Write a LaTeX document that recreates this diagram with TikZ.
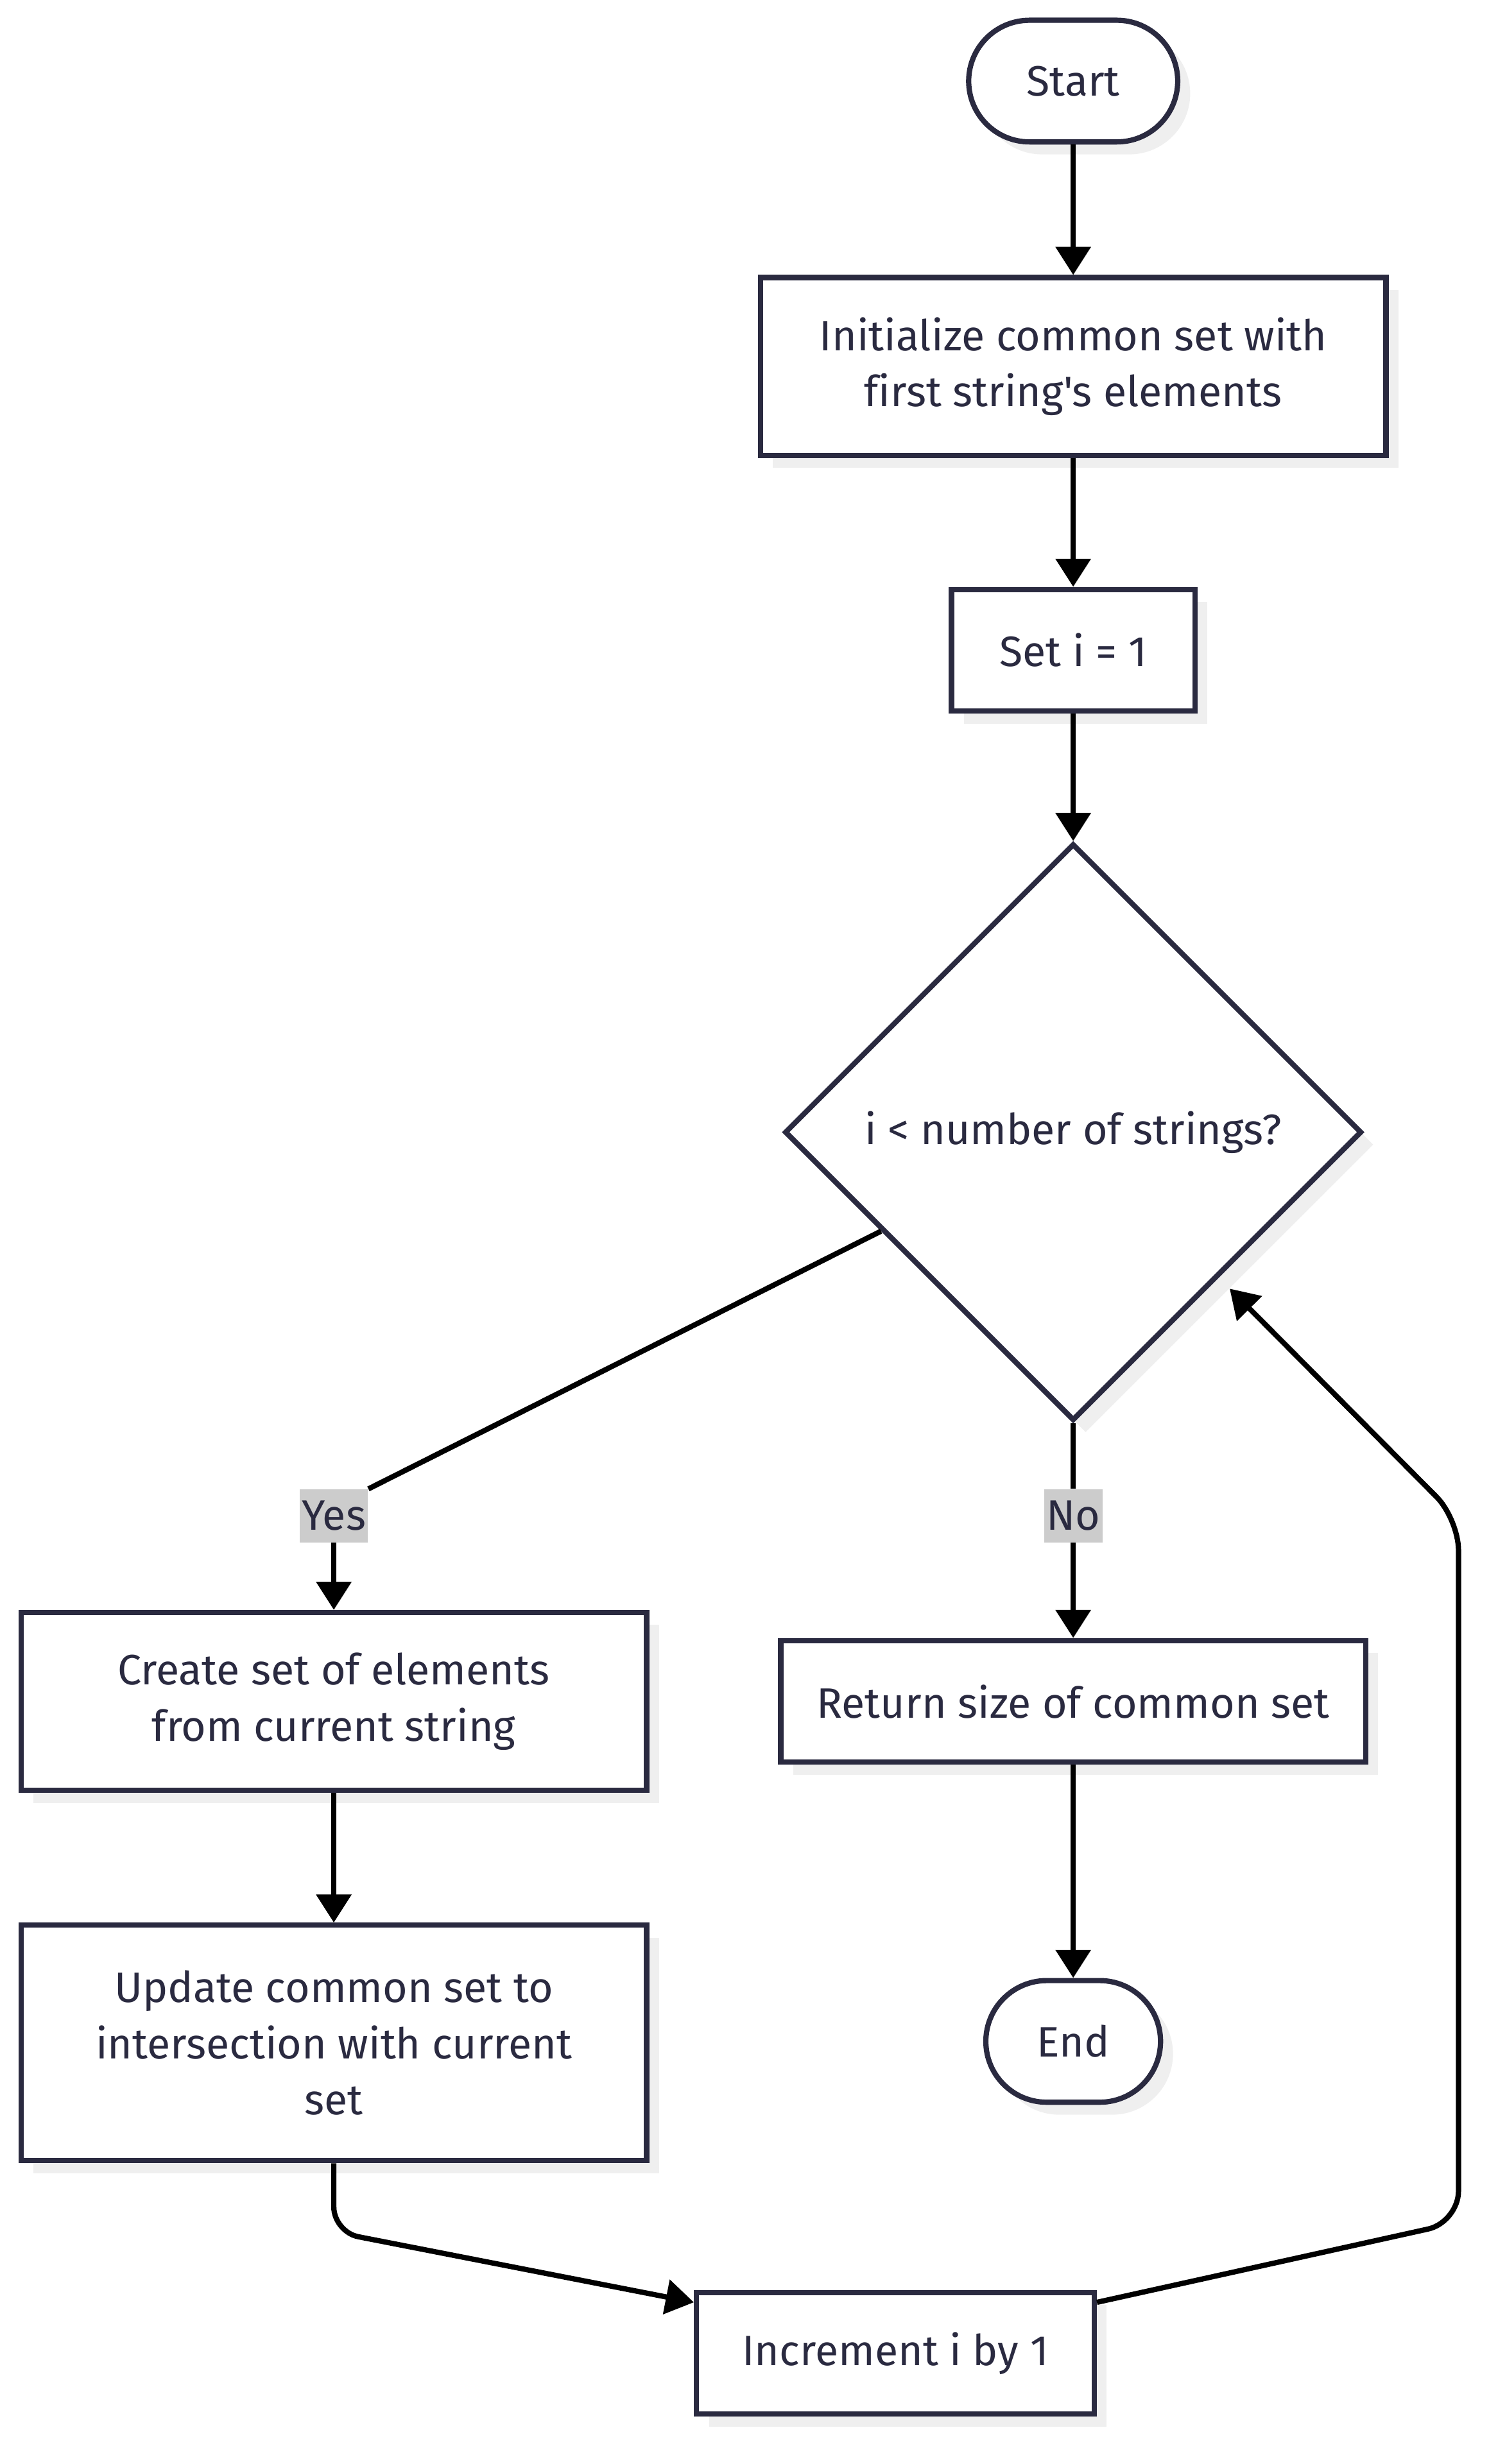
\documentclass[tikz,border=0pt]{standalone}
\usepackage{fontspec}
\setmainfont{Fira Sans}[Ligatures={TeXOff,CommonOff}]
\usetikzlibrary{shapes.geometric,arrows.meta,shadows,calc}
\definecolor{ink}{HTML}{2A2A40}
\definecolor{shade}{HTML}{EFEFEF}
\definecolor{lblgray}{HTML}{CCCCCC}
\begin{document}
\begin{tikzpicture}[font=\fontsize{19.4}{25.6}\selectfont]
            \tikzstyle{box} = [draw=ink, line width=2.4pt, fill=white, text=ink, align=center, drop shadow={shadow xshift=0.2cm, shadow yshift=-0.2cm, fill=shade, opacity=1}]
            \tikzstyle{term} = [box, rounded corners=0.975cm, minimum height=1.95cm]
            \tikzstyle{decision} = [box, diamond, aspect=1, minimum width=9.25cm, minimum height=9.25cm, inner sep=0pt]
            \tikzstyle{flow} = [line width=2.4pt, draw=black]
            \tikzstyle{flowarrow} = [flow, -{Triangle[width=0.55cm, length=0.45cm]}]
            \tikzstyle{lbl} = [fill=lblgray, text=ink, inner sep=1pt, minimum height=0.85cm]
            \useasboundingbox (0, 0) rectangle (24, -39.5);
            \node[term, minimum width=3.35cm] (start) at (17.2, -1.3) {Start};
            \node[box, minimum width=10.025cm, minimum height=2.85cm] (init) at (17.2, -5.875) {Initialize common set with\\first string's elements};
            \node[box, minimum width=3.9cm, minimum height=1.95cm] (seti) at (17.2, -10.425) {Set i = 1};
            \node[decision] (check) at (17.2, -18.15) {i < number of strings?};
            \node[box, minimum width=10.025cm, minimum height=2.85cm] (create) at (5.35, -27.275) {Create set of elements\\from current string};
            \node[box, minimum width=9.375cm, minimum height=1.95cm] (ret) at (17.2, -27.275) {Return size of common set};
            \node[box, minimum width=10.025cm, minimum height=3.775cm] (update) at (5.35, -32.75) {Update common set to\\intersection with current\\set};
            \node[term, minimum width=2.8cm] (stop) at (17.2, -32.725) {End};
            \node[box, minimum width=6.375cm, minimum height=1.95cm] (incr) at (14.35, -37.725) {Increment i by 1};
            \node[lbl] (yes) at (5.35, -24.3) {Yes};
            \node[lbl] (no) at (17.2, -24.3) {No};
            \coordinate (back) at ($(check.east)!0.5!(check.south) + (0.175, -0.175)$);
            
            \draw[flowarrow] (start) -- (init);
            \draw[flowarrow] (init) -- (seti);
            \draw[flowarrow] (seti) -- (check);
            \draw[flow] ($(check.west)!0.34!(check.south)$) -- (yes.north east);
            \draw[flowarrow] (yes) -- (create);
            \draw[flow] (check) -- (no);
            \draw[flowarrow] (no) -- (ret);
            \draw[flowarrow] (create) -- (update);
            \draw[flowarrow] (ret) -- (stop);
            \draw[flowarrow, rounded corners=0.4cm] (update.south) -- ++(0, -1.1) -- ([yshift=-0.2cm]incr.north west);
            \draw[flowarrow, rounded corners=0.5cm] ([yshift=-0.2cm]incr.north east) -- (23.375, -35.625) -- (23.375, -24.35) -- (back);
        \end{tikzpicture}
\end{document}
